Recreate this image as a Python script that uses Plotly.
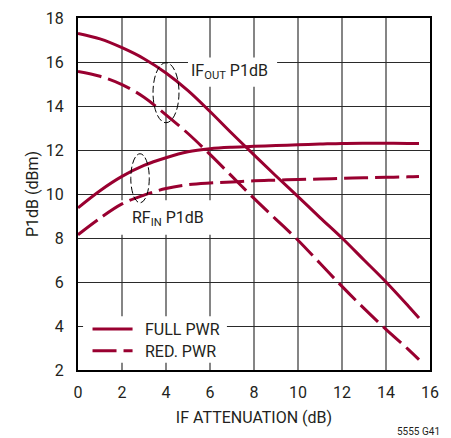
import plotly.graph_objects as go

# ---- data ----
if_atten = [0, 1, 2, 3, 4, 5, 6, 7, 8, 9, 10, 11, 12, 13, 14, 15, 15.5]
ifout_full = [17.3, 17.05, 16.65, 16.15, 15.5, 14.7, 13.75, 12.75, 11.78, 10.82, 9.88, 8.93, 8.0, 7.0, 6.0, 4.92, 4.36]
ifout_red = [15.57, 15.35, 14.97, 14.4, 13.6, 12.75, 11.8, 10.8, 9.8, 8.85, 7.9, 6.85, 5.8, 4.8, 3.85, 2.95, 2.47]
rfin_full = [9.37, 10.15, 10.8, 11.3, 11.65, 11.92, 12.06, 12.13, 12.17, 12.2, 12.24, 12.27, 12.3, 12.31, 12.31, 12.3, 12.29]
rfin_red = [8.15, 8.9, 9.55, 9.95, 10.25, 10.42, 10.5, 10.55, 10.6, 10.63, 10.66, 10.68, 10.71, 10.74, 10.76, 10.78, 10.8]

x_ticks = [0, 2, 4, 6, 8, 10, 12, 14, 16]
y_ticks = [2, 4, 6, 8, 10, 12, 14, 16, 18]
legend_names = ["FULL PWR", "RED. PWR"]

RED = "#990030"
DASH = "24px,7px"
FONT = "Roboto, Liberation Sans, sans-serif"
TXT = "#231f20"
FS = 16

fig = go.Figure()
for y, dash in [(ifout_full, "solid"), (ifout_red, DASH), (rfin_full, "solid"), (rfin_red, DASH)]:
    fig.add_trace(go.Scatter(x=if_atten, y=y, mode="lines", line_shape="spline",
                             line=dict(color=RED, width=3, dash=dash), showlegend=False,
                             hoverinfo="skip"))

shapes = []
# white boxes hiding grid behind labels / legend
for (x0, x1, y0, y1) in [(5.0, 9.05, 14.88, 16.2), (1.9, 6.1, 8.15, 9.72), (0.23, 6.77, 2.33, 4.44)]:
    shapes.append(dict(type="rect", xref="x", yref="y", x0=x0, x1=x1, y0=y0, y1=y1,
                       fillcolor="white", line=dict(width=0), layer="between"))
# dashed ellipses
shapes.append(dict(type="circle", xref="x", yref="y", x0=3.41, x1=4.59, y0=13.24, y1=15.97,
                   line=dict(color="black", width=1, dash="7px,3px")))
shapes.append(dict(type="circle", xref="x", yref="y", x0=2.4, x1=3.24, y0=9.6, y1=11.83,
                   line=dict(color="black", width=1, dash="7px,3px")))
# legend samples
shapes.append(dict(type="line", xref="x", yref="y", x0=0.66, x1=2.48, y0=3.86, y1=3.86,
                   line=dict(color=RED, width=3)))
shapes.append(dict(type="line", xref="x", yref="y", x0=0.66, x1=2.48, y0=2.88, y1=2.88,
                   line=dict(color=RED, width=3, dash=DASH)))

annotations = [
    dict(x=5.05, y=15.55, xref="x", yref="y", text="IF<sub>OUT</sub> P1dB", showarrow=False,
         xanchor="left", yanchor="middle", font=dict(family=FONT, size=FS, color=TXT)),
    dict(x=2.35, y=8.88, xref="x", yref="y", text="RF<sub>IN</sub> P1dB", showarrow=False,
         xanchor="left", yanchor="middle", font=dict(family=FONT, size=FS, color=TXT)),
    dict(x=2.97, y=3.82, xref="x", yref="y", text=legend_names[0], showarrow=False,
         xanchor="left", yanchor="middle", font=dict(family=FONT, size=FS, color=TXT)),
    dict(x=2.97, y=2.84, xref="x", yref="y", text=legend_names[1], showarrow=False,
         xanchor="left", yanchor="middle", font=dict(family=FONT, size=FS, color=TXT)),
    dict(x=1.034, y=-0.176, xref="paper", yref="paper", text="5555 G41", showarrow=False,
         xanchor="right", yanchor="middle", font=dict(family=FONT, size=10, color=TXT)),
]

# page body has an 8px default margin: compensate so the plot area lands at 78..430 x 18..370
fig.update_layout(
    width=443, height=430,
    margin=dict(l=70, r=21, t=10, b=68),
    paper_bgcolor="white", plot_bgcolor="white",
    font=dict(family=FONT, size=FS, color=TXT),
    shapes=shapes, annotations=annotations, showlegend=False,
    xaxis=dict(range=[0, 16], tickvals=x_ticks, ticktext=[str(v) for v in x_ticks],
               showgrid=True, gridcolor="#858585", gridwidth=1.6,
               showline=True, linecolor="black", linewidth=2, mirror=True,
               ticks="", ticklabelstandoff=7, zeroline=False, automargin=False,
               title=dict(text="IF ATTENUATION (dB)", standoff=11, font=dict(size=FS))),
    yaxis=dict(range=[2, 18], tickvals=y_ticks, ticktext=[str(v) for v in y_ticks],
               showgrid=True, gridcolor="#2a2a2a", gridwidth=1,
               showline=True, linecolor="black", linewidth=2, mirror=True,
               ticks="", ticklabelstandoff=9, zeroline=False, automargin=False,
               title=dict(text="P1dB (dBm)", standoff=3, font=dict(size=FS))),
)

fig.write_html("out.html")
